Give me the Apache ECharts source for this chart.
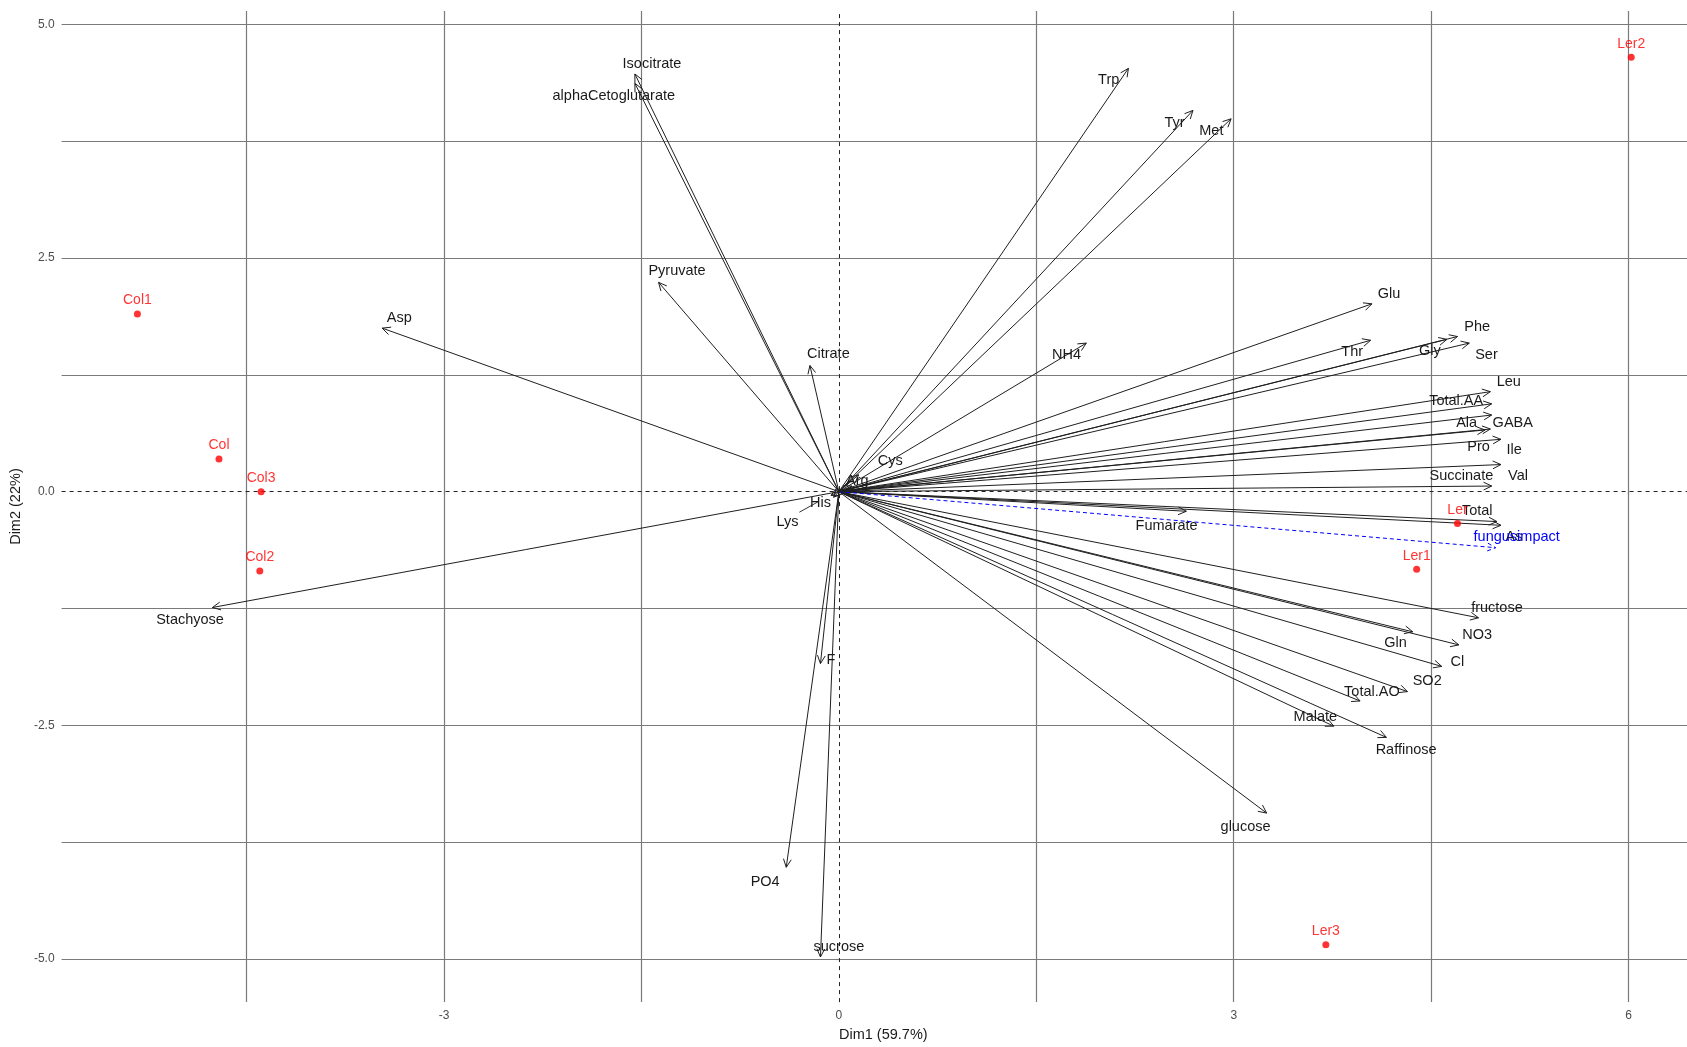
<!DOCTYPE html>
<html>
<head>
<meta charset="utf-8">
<script src="https://cdn.jsdelivr.net/npm/echarts@6/dist/echarts.min.js"></script>
<style>
html,body{margin:0;padding:0;background:#fff;}
#chart{width:1687px;height:1047px;}
</style>
</head>
<body>
<div id="chart"></div>
<script>
// ---- Variables (arrow end points, Dim1 / Dim2) ----
const varNames = ["Isocitrate","alphaCetoglutarate","Trp","Tyr","Met","Pyruvate","Asp","Citrate","NH4","Glu","Phe","Thr","Gly","Ser","Leu","Total.AA","GABA","Ala","Pro","Ile","Val","Succinate","Cys","Arg","His","Lys","Total","As","Fumarate","fructose","Gln","NO3","Cl","SO2","Total.AO","Malate","Raffinose","glucose","PO4","sucrose","F","Stachyose"];
const varX = [-1.55,-1.55,2.20,2.69,2.98,-1.37,-3.47,-0.22,1.88,4.05,4.70,4.04,4.62,4.79,4.95,4.96,4.96,4.91,4.95,5.03,5.03,4.96,0.15,0.10,-0.06,-0.04,5.00,5.03,2.64,4.86,4.36,4.71,4.58,4.32,3.96,3.76,4.16,3.25,-0.40,-0.14,-0.14,-4.76];
const varY = [4.47,4.37,4.53,4.08,3.99,2.24,1.75,1.35,1.59,2.01,1.66,1.62,1.63,1.59,1.07,0.94,0.82,0.66,0.67,0.56,0.29,0.06,0.18,0.06,-0.04,-0.06,-0.32,-0.36,-0.21,-1.35,-1.50,-1.64,-1.87,-2.14,-2.24,-2.51,-2.63,-3.44,-4.02,-4.98,-1.84,-1.24];
// label anchor (text centre) in Dim1 / Dim2 units
const varLabelX = [-1.42,-1.71,2.05,2.55,2.83,-1.23,-3.34,-0.08,1.73,4.18,4.85,3.90,4.49,4.92,5.09,4.69,5.12,4.77,4.86,5.13,5.16,4.73,0.39,0.14,-0.14,-0.39,4.85,5.13,2.49,5.00,4.23,4.85,4.70,4.47,4.05,3.62,4.31,3.09,-0.56,0.00,-0.06,-4.93];
const varLabelY = [4.58,4.23,4.41,3.95,3.86,2.36,1.86,1.47,1.46,2.11,1.76,1.49,1.50,1.46,1.17,0.97,0.74,0.74,0.48,0.45,0.17,0.17,0.33,0.11,-0.12,-0.33,-0.21,-0.49,-0.37,-1.24,-1.62,-1.53,-1.82,-2.03,-2.14,-2.41,-2.77,-3.59,-4.18,-4.87,-1.80,-1.37];

// ---- Supplementary variable ----
const suppNames = ["fungusimpact"];
const suppX = [4.99];
const suppY = [-0.60];
const suppLabelX = [5.15];
const suppLabelY = [-0.49];

// ---- Individuals ----
const indNames = ["Ler2","Col1","Col","Col3","Col2","Ler","Ler1","Ler3"];
const indX = [6.02,-5.33,-4.71,-4.39,-4.40,4.70,4.39,3.70];
const indY = [4.65,1.90,0.35,0.00,-0.85,-0.34,-0.83,-4.85];

// ---- Label connector (ggrepel segment for Lys) ----
const connX1 = [-0.30], connY1 = [-0.22], connX2 = [-0.16], connY2 = [-0.11];

// ---- Axis ticks ----
const xGrid = [-4.5,-3,-1.5,1.5,3,4.5,6];
const xTickLabels = [-3,0,3,6];
const yGrid = [-5,-3.75,-2.5,-1.25,1.25,2.5,3.75,5];
const yTickLabels = [-5,-2.5,0,2.5,5];

const FONT = '"Liberation Sans", Arial, Helvetica, sans-serif';
const chart = echarts.init(document.getElementById('chart'), null, {renderer:'canvas'});

function arrowRender(color, dash) {
  return function(params, api) {
    const p0 = api.coord([0, 0]);
    const p1 = api.coord([api.value(0), api.value(1)]);
    const ang = Math.atan2(p1[1]-p0[1], p1[0]-p0[0]);
    const L = 9, a = Math.PI/7;
    const h1 = [p1[0]-L*Math.cos(ang-a), p1[1]-L*Math.sin(ang-a)];
    const h2 = [p1[0]-L*Math.cos(ang+a), p1[1]-L*Math.sin(ang+a)];
    const st = {stroke: color, lineWidth: 1, fill: null};
    if (dash) st.lineDash = dash;
    return {type:'group', children:[
      {type:'line', shape:{x1:p0[0],y1:p0[1],x2:p1[0],y2:p1[1]}, style: st},
      {type:'polyline', shape:{points:[h1,p1,h2]}, style: Object.assign({}, st)}
    ]};
  };
}
function textRender(color) {
  return function(params, api) {
    const p = api.coord([api.value(0), api.value(1)]);
    return {type:'text', x:p[0], y:p[1], style:{text: api.value(2), fill: color, font: '14.5px ' + FONT, align:'center', verticalAlign:'middle'}};
  };
}

const option = {
  animation: false,
  backgroundColor: '#ffffff',
  textStyle: {fontFamily: FONT},
  grid: {left: 58, right: 0, top: 11, bottom: 40, containLabel: false},
  xAxis: {
    type: 'value', min: -5.906, max: 6.444,
    name: 'Dim1 (59.7%)', nameLocation: 'middle', nameGap: 22,
    nameTextStyle: {fontSize: 14.5, color: '#1a1a1a', padding: [0,0,0,18]},
    axisLine: {show: false},
    axisTick: {show: true, length: 3, customValues: xGrid, lineStyle: {color: '#7a7a7a', width: 1.2}},
    axisLabel: {customValues: xTickLabels, margin: 8, fontSize: 12, color: '#4d4d4d', formatter: v => String(Math.round(v))},
    splitLine: {show: true, lineStyle: {color: '#7a7a7a', width: 1.2}}
  },
  yAxis: {
    type: 'value', min: -5.463, max: 5.144,
    name: 'Dim2 (22%)', nameLocation: 'middle', nameGap: 30, nameRotate: 90,
    nameTextStyle: {fontSize: 14.5, color: '#1a1a1a'},
    axisLine: {show: false},
    axisTick: {show: true, length: 3, customValues: yGrid, lineStyle: {color: '#7a7a7a', width: 1.2}},
    axisLabel: {customValues: yTickLabels, margin: 7, fontSize: 12, color: '#4d4d4d', formatter: v => v.toFixed(1)},
    splitLine: {show: true, lineStyle: {color: '#7a7a7a', width: 1.2}}
  },
  series: [
    {
      type: 'custom', name: 'variables', coordinateSystem: 'cartesian2d', z: 3,
      data: varX.map((x,i) => [x, varY[i]]),
      encode: {x: 0, y: 1},
      renderItem: arrowRender('#1f1f1f', null),
      markLine: {
        silent: true, symbol: ['none','none'], label: {show: false},
        lineStyle: {type: [4,4], color: '#222', width: 1},
        data: [{xAxis: 0}, {yAxis: 0}]
      }
    },
    {
      type: 'custom', name: 'supplementary', coordinateSystem: 'cartesian2d', z: 3,
      data: suppX.map((x,i) => [x, suppY[i]]),
      encode: {x: 0, y: 1},
      renderItem: arrowRender('#0000ff', [4,3])
    },
    {
      type: 'custom', name: 'connectors', coordinateSystem: 'cartesian2d', z: 3,
      data: connX1.map((x,i) => [x, connY1[i], connX2[i], connY2[i]]),
      encode: {x: [0,2], y: [1,3]},
      renderItem: function(params, api) {
        const a = api.coord([api.value(0), api.value(1)]);
        const b = api.coord([api.value(2), api.value(3)]);
        return {type:'line', shape:{x1:a[0],y1:a[1],x2:b[0],y2:b[1]}, style:{stroke:'#333', lineWidth:1}};
      }
    },
    {
      type: 'custom', name: 'varLabels', coordinateSystem: 'cartesian2d', z: 4,
      data: varLabelX.map((x,i) => [x, varLabelY[i], varNames[i]]),
      encode: {x: 0, y: 1},
      renderItem: textRender('#1a1a1a')
    },
    {
      type: 'custom', name: 'suppLabels', coordinateSystem: 'cartesian2d', z: 4,
      data: suppLabelX.map((x,i) => [x, suppLabelY[i], suppNames[i]]),
      encode: {x: 0, y: 1},
      renderItem: textRender('#0000ff')
    },
    {
      type: 'scatter', name: 'individuals', z: 5,
      data: indX.map((x,i) => [x, indY[i], indNames[i]]),
      symbolSize: 7,
      itemStyle: {color: '#ff0000'},
      label: {show: true, position: 'top', distance: 3, color: '#ff0000', fontSize: 14, fontFamily: FONT, formatter: p => p.value[2]}
    }
  ]
};
chart.setOption(option);
</script>
</body>
</html>
